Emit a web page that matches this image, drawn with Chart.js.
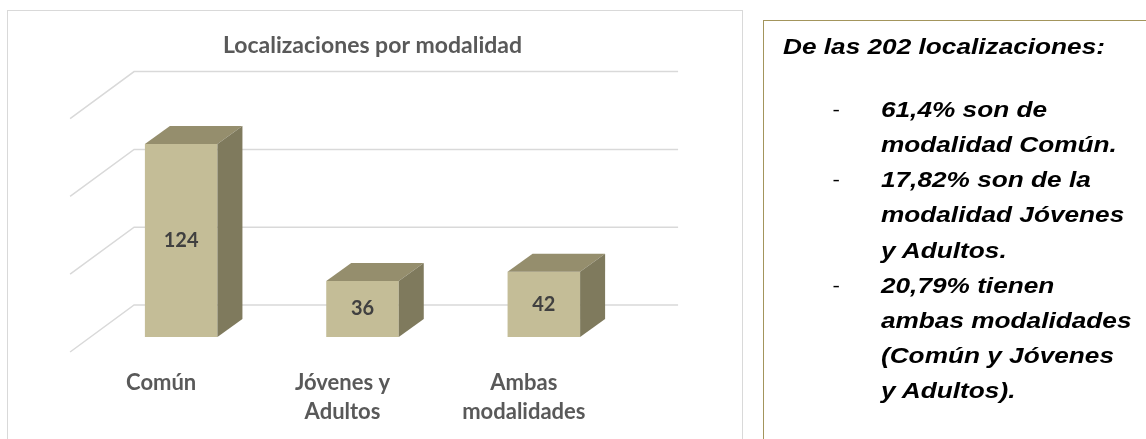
<!DOCTYPE html>
<html>
<head>
<meta charset="utf-8">
<script src="https://cdn.jsdelivr.net/npm/chart.js@4.4.1/dist/chart.umd.min.js"></script>
<style>
  body { margin: 0; background: #fff; width: 1146px; height: 439px; overflow: hidden; position: relative; }
  #frame { position: absolute; left: 7px; top: 10px; width: 734px; height: 440px; border: 1.5px solid #d9d9d9; }
  #wrap { position: absolute; left: 9px; top: 12px; width: 733px; height: 427px; }
  #note {
    position: absolute; left: 763px; top: 20px; width: 420px; height: 440px;
    border: 1.5px solid #a3955c; box-sizing: border-box;
    font-family: "Liberation Sans", Arial, sans-serif; font-weight: bold; font-style: italic;
    font-size: 22.5px; color: #000;
  }
  #note .inner { position: absolute; left: 0; top: 0; width: 100%; transform: scaleX(1.165); transform-origin: 0 0; }
  #note .head { position: absolute; left: 16.3px; top: 8.15px; line-height: 35.1px; white-space: nowrap; }
  #note ul { position: absolute; left: 0; top: 71.15px; margin: 0; padding: 0; list-style: none; }
  #note li { position: relative; padding-left: 100.4px; line-height: 35.1px; white-space: nowrap; }
  #note li::before { content: "-"; position: absolute; left: 58.8px; font-style: normal; font-weight: normal; font-size: 19px; }
</style>
</head>
<body>
<div id="frame"></div>
<div id="wrap"><canvas id="my-chart"></canvas></div>
<div id="note">
  <div class="inner">
    <div class="head">De las 202 localizaciones:</div>
    <ul>
      <li>61,4% son de<br>modalidad Común.</li>
      <li>17,82% son de la<br>modalidad Jóvenes<br>y Adultos.</li>
      <li>20,79% tienen<br>ambas modalidades<br>(Común y Jóvenes<br>y Adultos).</li>
    </ul>
  </div>
</div>
<script>
const chartTitle = "Localizaciones por modalidad";
const categories = ["Común", ["Jóvenes y", "Adultos"], ["Ambas", "modalidades"]];
const localizaciones = [124, 36, 42];
const yMin = 0;
const yMax = 150;
const yStep = 50;

const frontColor = "#c4bd97";
const topColor = "#958e6d";
const sideColor = "#7f7a5d";
const gridColor = "#d9d9d9";
const labelColor = "#595959";
const chartFont = "Lato, 'Open Sans', sans-serif";

// 3d look: back wall / front edge offsets from the bar front plane, and bar depth
const back = { dx: 43.6, dy: -32 };
const front = { dx: -20.4, dy: 15 };
const depth = { dx: 25, dy: -18 };

const walls3d = {
  id: "walls3d",
  beforeDatasetsDraw(chart) {
    const { ctx, chartArea } = chart;
    const y = chart.scales.y;
    ctx.save();
    ctx.strokeStyle = gridColor;
    ctx.lineWidth = 1.5;
    y.ticks.forEach((t) => {
      const py = y.getPixelForValue(t.value);
      ctx.beginPath();
      ctx.moveTo(chartArea.left + front.dx, py + front.dy);
      ctx.lineTo(chartArea.left + back.dx, py + back.dy);
      ctx.lineTo(chartArea.right + back.dx, py + back.dy);
      ctx.stroke();
    });
    ctx.restore();
  },
  afterDatasetsDraw(chart) {
    const { ctx } = chart;
    const meta = chart.getDatasetMeta(0);
    ctx.save();
    meta.data.forEach((bar, i) => {
      const x0 = bar.x - bar.width / 2;
      const x1 = bar.x + bar.width / 2;
      const yt = bar.y;
      const yb = bar.base;
      ctx.fillStyle = topColor;
      ctx.beginPath();
      ctx.moveTo(x0, yt);
      ctx.lineTo(x0 + depth.dx, yt + depth.dy);
      ctx.lineTo(x1 + depth.dx, yt + depth.dy);
      ctx.lineTo(x1, yt);
      ctx.closePath();
      ctx.fill();
      ctx.fillStyle = sideColor;
      ctx.beginPath();
      ctx.moveTo(x1, yt);
      ctx.lineTo(x1 + depth.dx, yt + depth.dy);
      ctx.lineTo(x1 + depth.dx, yb + depth.dy);
      ctx.lineTo(x1, yb);
      ctx.closePath();
      ctx.fill();

      ctx.fillStyle = "#404040";
      ctx.font = "bold 20px " + chartFont;
      ctx.textAlign = "center";
      ctx.textBaseline = "middle";
      ctx.fillText(String(localizaciones[i]), bar.x, (yt + yb) / 2);
    });
    ctx.restore();
  },
};

const ctx = document.getElementById("my-chart");

new Chart(ctx, {
  type: "bar",
  data: {
    labels: categories,
    datasets: [
      {
        label: "Localizaciones",
        data: localizaciones,
        backgroundColor: frontColor,
        borderWidth: 0,
        barPercentage: 0.4,
        categoryPercentage: 1,
      },
    ],
  },
  options: {
    responsive: true,
    maintainAspectRatio: false,
    animation: false,
    layout: { padding: { left: 81.5, right: 87.5, top: 0, bottom: 0 } },
    plugins: {
      legend: { display: false },
      tooltip: { enabled: false },
      title: {
        display: true,
        text: chartTitle,
        color: labelColor,
        font: { family: chartFont, size: 23, weight: "bold", lineHeight: 1.2 },
        padding: { top: 20.2, bottom: 43.8 },
      },
    },
    scales: {
      x: {
        grid: { display: false, drawTicks: false },
        border: { display: false },
        ticks: {
          color: labelColor,
          font: { family: chartFont, size: 22, weight: "bold", lineHeight: 1.32 },
          padding: 31.5,
          labelOffset: -20,
          maxRotation: 0,
          autoSkip: false,
        },
        afterFit(scale) {
          scale.height = 102;
        },
      },
      y: {
        position: "right",
        min: yMin,
        max: yMax,
        grid: { display: false, drawTicks: false },
        border: { display: false },
        ticks: { stepSize: yStep, display: false },
        afterFit(scale) {
          scale.width = 20;
        },
      },
    },
  },
  plugins: [walls3d],
});
</script>
</body>
</html>
